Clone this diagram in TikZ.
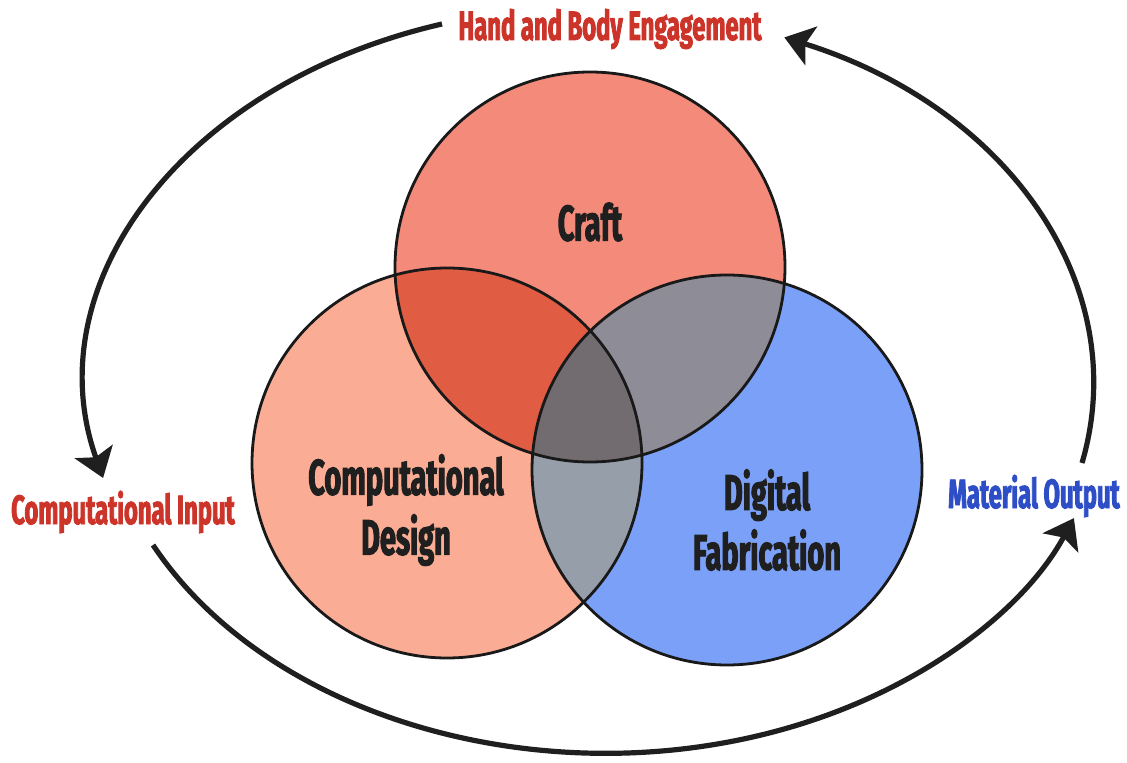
\documentclass[tikz,border=0pt]{standalone}
\usepackage{fontspec}
\usepackage{xcolor}
\newfontfamily\vennfont{Fira Sans}[FakeStretch=0.58, FakeBold=2]
\usetikzlibrary{arrows.meta}
\definecolor{craft_red}{RGB}{243,138,122}
\definecolor{comp_peach}{RGB}{250,172,148}
\definecolor{digi_blue}{RGB}{122,160,248}
\definecolor{craft_comp}{RGB}{224,92,66}
\definecolor{craft_digi}{RGB}{142,140,150}
\definecolor{comp_digi}{RGB}{150,158,170}
\definecolor{all_three}{RGB}{114,108,112}
\definecolor{label_red}{RGB}{204,52,42}
\definecolor{label_blue}{RGB}{46,78,200}

\tikzset{
  ring/.style={draw=black!90, line width=1.4pt},
  outer label/.style={font=\vennfont\bfseries\fontsize{20.5}{24}\selectfont, inner sep=0pt},
  venn label/.style={font=\vennfont\bfseries\fontsize{25}{30}\selectfont, text=black!88, align=center, inner sep=0pt},
  cycle arrow/.style={draw=black!88, line width=2.6pt, -{Stealth[length=14pt, width=20pt, inset=3pt]}}
}

\begin{document}
\begin{tikzpicture}[x=0.5pt,y=-0.5pt]
    \useasboundingbox (0,0) rectangle (1127,763);
    \coordinate (craft) at (590,267);
    \coordinate (comp) at (447,463);
    \coordinate (digi) at (727,470);
    % plain discs
    \fill[craft_red] (craft) circle[radius=97.5pt];
    \fill[comp_peach] (comp) circle[radius=97.5pt];
    \fill[digi_blue] (digi) circle[radius=97.5pt];
    % overlaps
    \begin{scope}
      \clip (craft) circle[radius=97.5pt];
      \fill[craft_comp] (comp) circle[radius=97.5pt];
      \fill[craft_digi] (digi) circle[radius=97.5pt];
    \end{scope}
    \begin{scope}
      \clip (comp) circle[radius=97.5pt];
      \fill[comp_digi] (digi) circle[radius=97.5pt];
      \clip (craft) circle[radius=97.5pt];
      \fill[all_three] (digi) circle[radius=97.5pt];
    \end{scope}
    \draw[ring] (craft) circle[radius=97.5pt];
    \draw[ring] (comp) circle[radius=97.5pt];
    \draw[ring] (digi) circle[radius=97.5pt];
    % labels
    \node[venn label] (craftlbl) at (590,222) {Craft};
    \node[venn label] (complbl) at (406,510) {Computational\\Design};
    \node[venn label] (digilbl) at (767,520) {Digital\\Fabrication};
    \node[outer label, text=label_red] (hand) at (610,29) {Hand and Body Engagement};
    \node[outer label, text=label_red] (cin) at (123,512) {Computational Input};
    \node[outer label, text=label_blue] (mout) at (1034,496) {Material Output};
    % the loop around the circles
    \coordinate (hand_out) at (442,24);
    \coordinate (cin_out) at (153,545);
    \coordinate (mout_out) at (1082,463);
    \draw[cycle arrow] (hand_out) arc[start angle=252.8, end angle=165.2, x radius=505, y radius=375];
    \draw[cycle arrow] (cin_out) arc[start angle=153.6, end angle=21.9, x radius=505, y radius=375];
    \draw[cycle arrow] (mout_out) arc[start angle=12.3, end angle=-67.2, x radius=505, y radius=375];
\end{tikzpicture}
\end{document}
